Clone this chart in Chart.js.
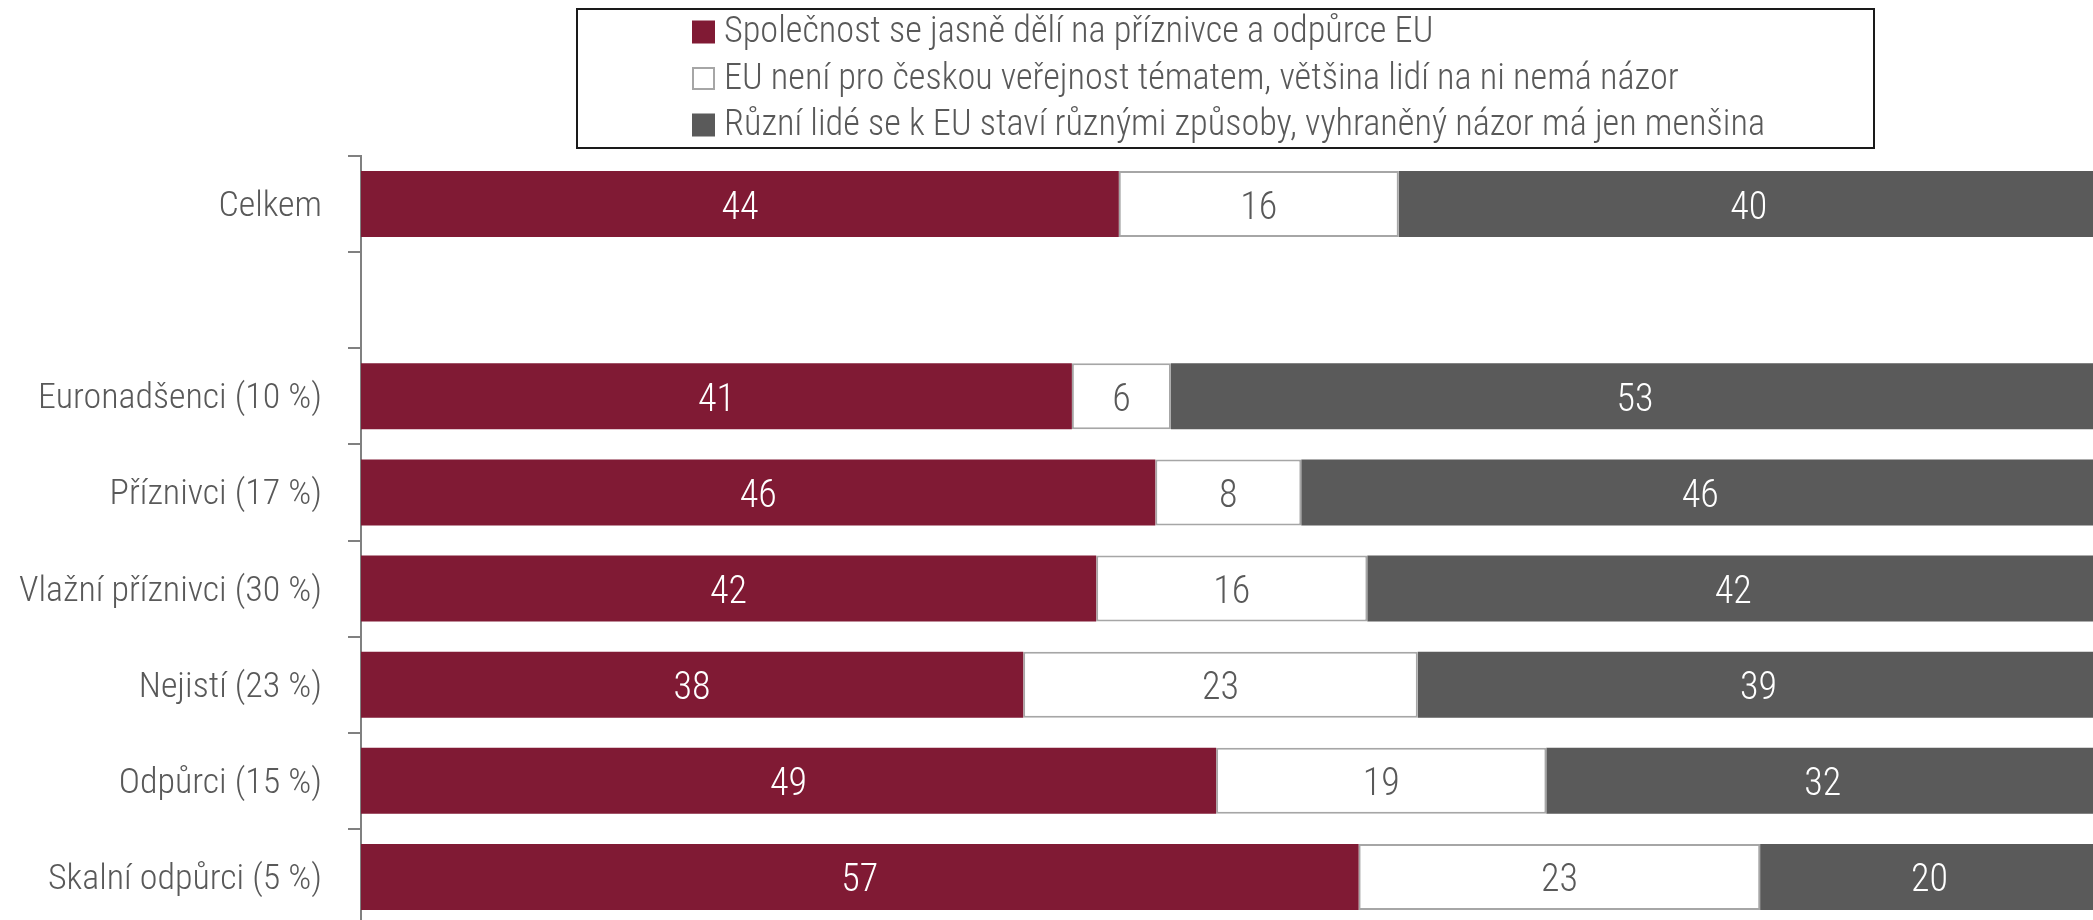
<!DOCTYPE html>
<html>
<head>
<meta charset="utf-8">
<script src="https://cdn.jsdelivr.net/npm/chart.js@4.4.1/dist/chart.umd.min.js"></script>
<style>
  html, body { margin: 0; padding: 0; overflow: hidden; background: #fff; }
  canvas { display: block; }
</style>
</head>
<body>
<canvas id="chart" width="2093" height="925"></canvas>
<script>
const categories = ["Celkem", "", "Euronadšenci (10 %)", "Příznivci (17 %)", "Vlažní příznivci (30 %)", "Nejistí (23 %)", "Odpůrci (15 %)", "Skalní odpůrci (5 %)"];
const seriesNames = [
  "Společnost se jasně dělí na příznivce a odpůrce EU",
  "EU není pro českou veřejnost tématem, většina lidí na ni nemá názor",
  "Různí lidé se k EU staví různými způsoby, vyhraněný názor má jen menšina",
];
// bar lengths (printed labels are these, rounded)
const divided = [43.6, null, 40.9, 45.7, 42.3, 38.1, 49.2, 57.4];
const noTopic = [16.1, null, 5.7, 8.4, 15.6, 22.7, 19.0, 23.1];
const varied = [40.3, null, 53.4, 45.9, 42.1, 39.2, 31.8, 19.5];

const MAROON = "#801a34";
const DARK = "#5a5a5a";
const TEXT = "#595959";

// pick a narrow font that is actually installed
const probe = document.createElement("canvas").getContext("2d");
function widthOf(font, s) { probe.font = font; return probe.measureText(s).width; }
function installed(name) {
  const s = "Euronadšenci (10 %) mmwwii";
  return widthOf(`72px "${name}", monospace`, s) !== widthOf("72px monospace", s) ||
         widthOf(`72px "${name}", serif`, s) !== widthOf("72px serif", s);
}
let family = "Roboto";
let weight = "300";
for (const f of ["Roboto Condensed", "Liberation Sans Narrow", "DejaVu Sans Condensed"]) {
  if (installed(f)) { family = f; weight = f === "Roboto Condensed" ? "300" : "normal"; break; }
}
if (family === "Roboto" && widthOf("300 condensed 72px Roboto", "Euronadšenci") < widthOf("300 72px Roboto", "Euronadšenci") - 2) {
  weight = "300 condensed";
}
const fam = `"${family}", sans-serif`;
function sizeFor(text, target) { return 100 * target / widthOf(`${weight} 100px ${fam}`, text); }
const catSize = Math.min(40, sizeFor("Euronadšenci (10 %)", 284));
const valSize = Math.min(42, sizeFor("44", 37));
const legSize = Math.min(38, sizeFor(seriesNames[2], 1041));

const valueLabels = {
  id: "valueLabels",
  afterDatasetsDraw(chart) {
    const ctx = chart.ctx;
    chart.data.datasets.forEach((ds, i) => {
      chart.getDatasetMeta(i).data.forEach((bar, j) => {
        const v = ds.data[j];
        if (v == null) return;
        ctx.save();
        ctx.font = `${weight} ${valSize}px ${fam}`;
        ctx.fillStyle = ds.labelColor;
        ctx.textAlign = "center";
        ctx.textBaseline = "middle";
        ctx.fillText(String(Math.round(v)), (bar.x + bar.base) / 2, bar.y + 5);
        ctx.restore();
      });
    });
  },
};

const boxLegend = {
  id: "boxLegend",
  afterDraw(chart) {
    const ctx = chart.ctx;
    ctx.save();
    ctx.strokeStyle = "#1a1a1a";
    ctx.lineWidth = 2;
    ctx.strokeRect(577, 9, 1297, 139);
    chart.data.datasets.forEach((ds, i) => {
      const y = 32 + i * 46.5;
      ctx.fillStyle = ds.backgroundColor;
      ctx.fillRect(692, y - 11.5, 23, 23);
      if (ds.borderWidth) {
        ctx.strokeStyle = ds.borderColor;
        ctx.lineWidth = 2;
        ctx.strokeRect(693, y - 10.5, 21, 21);
      }
      ctx.fillStyle = TEXT;
      ctx.font = `${weight} ${legSize}px ${fam}`;
      ctx.textBaseline = "middle";
      ctx.fillText(ds.label, 724, y + 1);
    });
    ctx.restore();
  },
};

new Chart(document.getElementById("chart"), {
  type: "bar",
  data: {
    labels: categories,
    datasets: [
      { label: seriesNames[0], data: divided, backgroundColor: MAROON, borderWidth: 0, labelColor: "#ffffff" },
      { label: seriesNames[1], data: noTopic, backgroundColor: "#ffffff", borderColor: "#a6a6a6", borderWidth: 2, borderSkipped: false, labelColor: TEXT },
      { label: seriesNames[2], data: varied, backgroundColor: DARK, borderWidth: 0, labelColor: "#ffffff" },
    ],
  },
  options: {
    indexAxis: "y",
    responsive: false,
    animation: false,
    datasets: { bar: { categoryPercentage: 1, barPercentage: 0.687 } },
    layout: { padding: { top: 156, right: 0, bottom: 0, left: 0 } },
    plugins: { legend: { display: false }, tooltip: { enabled: false } },
    scales: {
      // the original plot runs a few pixels past the right edge of the image
      x: { stacked: true, min: 0, max: 99.65, display: false },
      y: {
        stacked: true,
        afterFit(scale) {
          scale.width = 361;
          scale.paddingTop = 0;
          scale.paddingBottom = 0;
        },
        grid: { drawOnChartArea: false, drawTicks: true, tickLength: 13, color: "#808080", lineWidth: 2 },
        border: { display: true, color: "#808080", width: 2 },
        ticks: { padding: 26, labelOffset: 3, color: TEXT, font: { family: fam, size: catSize, weight: weight } },
      },
    },
  },
  plugins: [valueLabels, boxLegend],
});
</script>
</body>
</html>
